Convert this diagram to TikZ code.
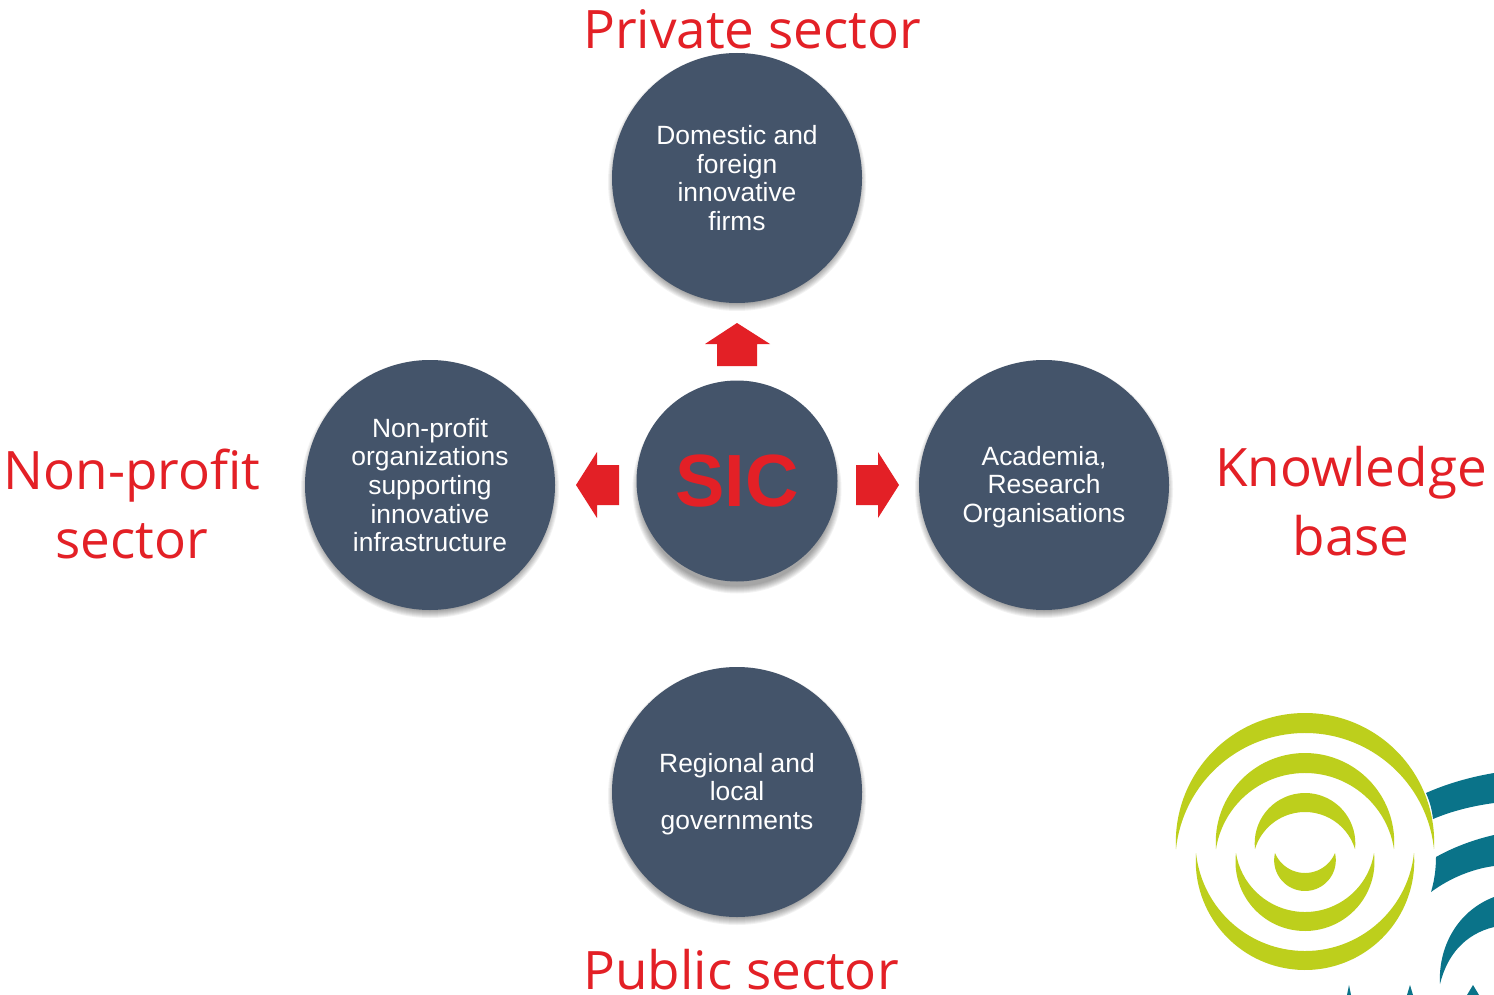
\documentclass[tikz,border=0pt]{standalone}
\usepackage{fontspec}
\setmainfont{Liberation Sans}
\newfontfamily\labelfont{Open Sans}
\definecolor{slatefill}{HTML}{44546A}
\definecolor{signalred}{HTML}{E32026}
\definecolor{logolime}{HTML}{BDCF1C}
\definecolor{logoteal}{HTML}{0A7389}
\tikzset{
  x=0.5pt,y=-0.5pt,
  hub/.style={circle,fill=slatefill,inner sep=0pt,text=white,align=center,
    minimum size=125pt,font=\fontsize{13.2}{14.35}\selectfont},
  sector/.style={text=signalred,align=center,inner sep=0pt,font=\labelfont\fontsize{26.5}{34.5}\selectfont},
  pointer/.style={fill=signalred,draw=none},
  crescent/.style={fill=logolime,draw=none},
  band/.style={fill=logoteal,draw=none}
}
\newcommand\softdisc[3]{%
  \foreach \grow in {-3,-2,...,4}
    \fill[black,opacity=0.05] (#1,#2+4) circle[radius=#3+\grow];%
}
\newcommand\topstrut{\rule{0pt}{11.6pt}}
% cx, horn y, half width, outer sagitta, inner sagitta, sign (1 = arch upward, -1 = bowl)
\newcommand\lensshape[6]{%
  \pgfmathsetmacro\ra{((#3/100)*(#3/100)+(#4/100)*(#4/100))/(2*#4/100)*100}%
  \pgfmathsetmacro\rb{((#3/100)*(#3/100)+(#5/100)*(#5/100))/(2*#5/100)*100}%
  \pgfmathsetmacro\aa{atan2(#3,\ra-#4)}%
  \pgfmathsetmacro\ab{atan2(#3,\rb-#5)}%
  \pgfmathsetmacro\base{#6>0?270:90}%
  \pgfmathsetmacro\sa{#6>0?\base-\aa:\base+\aa}%
  \pgfmathsetmacro\ea{#6>0?\base+\aa:\base-\aa}%
  \pgfmathsetmacro\sb{#6>0?\base+\ab:\base-\ab}%
  \pgfmathsetmacro\eb{#6>0?\base-\ab:\base+\ab}%
  \fill[crescent] (#1-#3,#2) arc[start angle=\sa,end angle=\ea,radius=\ra] arc[start angle=\sb,end angle=\eb,radius=\rb] -- cycle;%
}
\begin{document}
\begin{tikzpicture}
\useasboundingbox (0,0) rectangle (1494,995);
\fill[white] (0,0) rectangle (1494,995);
\softdisc{737}{178}{125}
\softdisc{430}{485}{125}
\softdisc{1044}{485}{125}
\softdisc{737}{792}{125}
\softdisc{737}{485}{100.5}
\node[hub] (firms) at (737,178) {Domestic and\\foreign\\innovative\\firms};
\node[hub] (nonprofit) at (430,485) {Non-profit\\organizations\\supporting\\innovative\\infrastructure};
\node[hub] (academia) at (1044,485) {\topstrut Academia,\\Research\\Organisations};
\node[hub] (gov) at (737,792) {\topstrut Regional and\\local\\governments};
\node[hub,minimum size=100.5pt,text=signalred,font=\bfseries\fontsize{37}{40}\selectfont] (sic) at (737,481) {SIC};
\node[sector] (lprivate) at (752,29) {Private sector};
\node[sector] (lpublic) at (741,970) {Public sector};
\node[sector] (lnonprofit) at (132,504) {Non-profit\\sector};
\node[sector] (lknow) at (1351,501) {Knowledge\\base};
\fill[pointer] (737,323) -- (770,344) -- (757,344) -- (757,366) -- (717,366) -- (717,344) -- (705,344) -- cycle;
\fill[pointer] (576,485) -- (597,452) -- (597,465) -- (619,465) -- (619,505) -- (597,505) -- (597,518) -- cycle;
\fill[pointer] (899,485) -- (878,452) -- (878,465) -- (856,465) -- (856,505) -- (878,505) -- (878,518) -- cycle;
\lensshape{1305}{849}{129}{136}{116}{1}
\lensshape{1305}{849}{89}{96}{76}{1}
\lensshape{1305}{849}{50}{56}{37}{1}
\lensshape{1305}{853}{109}{117}{98}{-1}
\lensshape{1305}{853}{69}{78}{59}{-1}
\lensshape{1305}{853}{30}{38}{20}{-1}
\fill[band] (1426,793) .. controls (1446,784) and (1470,777) .. (1494,773) -- (1494,803) .. controls (1472,806) and (1452,811) .. (1433,819) .. controls (1432,810) and (1430,802) .. cycle;
\fill[band] (1436,857) .. controls (1452,848) and (1472,840) .. (1494,835) -- (1494,866) .. controls (1472,869) and (1450,878) .. (1431,892) .. controls (1434,882) and (1436,870) .. cycle;
\fill[band] (1440,984) .. controls (1438,950) and (1455,912) .. (1494,897) -- (1494,927) .. controls (1465,934) and (1447,955) .. cycle;
\fill[band] (1347,995) -- (1349,985) -- (1351,995) -- cycle;
\fill[band] (1407,995) -- (1410,985) -- (1413,995) -- cycle;
\fill[band] (1467,995) -- (1473,985) -- (1479,995) -- cycle;
\end{tikzpicture}
\end{document}
